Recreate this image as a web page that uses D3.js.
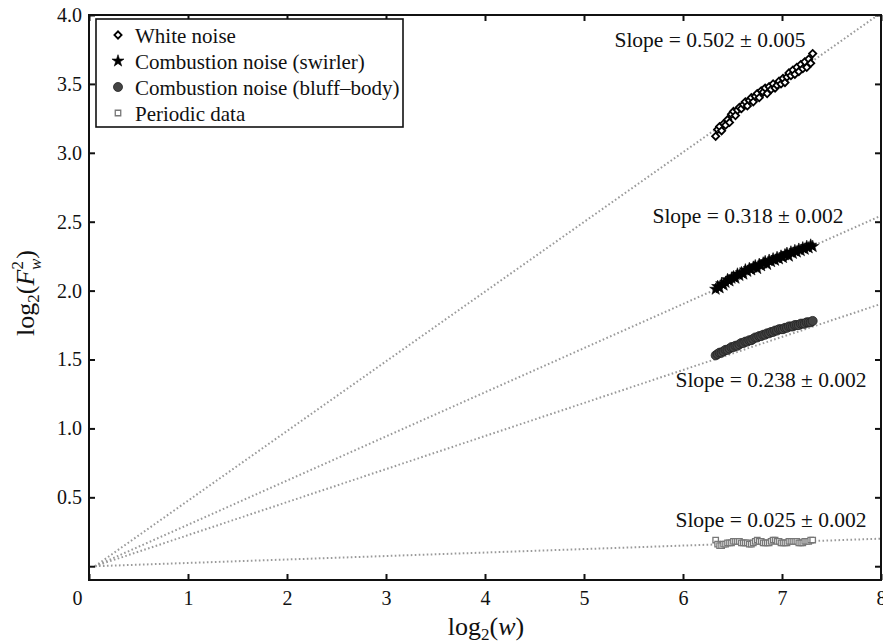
<!DOCTYPE html>
<html>
<head>
<meta charset="utf-8">
<script src="https://cdn.jsdelivr.net/npm/d3@7"></script>
<style>
  body { margin: 0; background: #fff; }
  text { font-family: "Liberation Serif", "DejaVu Serif", serif; fill: #111; }
</style>
</head>
<body>
<svg id="chart" width="883" height="644"></svg>
<script>
// log2(w) values shared by all four series
const logW = [6.33,6.35,6.37,6.39,6.41,6.43,6.45,6.47,6.49,6.51,
  6.53,6.55,6.57,6.59,6.61,6.63,6.65,6.67,6.69,6.71,
  6.73,6.75,6.77,6.79,6.81,6.83,6.85,6.87,6.89,6.91,
  6.93,6.95,6.97,6.99,7.01,7.03,7.05,7.07,7.09,7.11,
  7.13,7.15,7.17,7.19,7.21,7.23,7.25,7.27,7.29,7.31];

const whiteNoise = [3.12,3.17,3.19,3.16,3.21,3.20,3.24,3.22,3.28,3.30,
  3.27,3.31,3.33,3.32,3.35,3.37,3.34,3.38,3.40,3.37,
  3.41,3.43,3.40,3.45,3.44,3.47,3.43,3.48,3.46,3.50,
  3.47,3.49,3.52,3.50,3.54,3.51,3.55,3.58,3.56,3.60,
  3.57,3.62,3.59,3.64,3.61,3.66,3.62,3.68,3.65,3.72];

const swirler = [2.01,2.03,2.02,2.05,2.04,2.06,2.08,2.07,2.09,2.10,
  2.09,2.12,2.11,2.13,2.12,2.15,2.14,2.16,2.15,2.17,
  2.18,2.16,2.19,2.18,2.20,2.21,2.19,2.22,2.21,2.23,
  2.22,2.24,2.23,2.25,2.24,2.26,2.27,2.25,2.28,2.27,
  2.29,2.28,2.30,2.29,2.31,2.30,2.32,2.31,2.33,2.32];

const bluffBody = [1.53,1.54,1.55,1.55,1.56,1.57,1.57,1.58,1.59,1.59,
  1.60,1.60,1.61,1.62,1.62,1.63,1.63,1.64,1.64,1.65,
  1.66,1.66,1.67,1.67,1.68,1.68,1.69,1.69,1.70,1.70,
  1.71,1.71,1.72,1.72,1.72,1.73,1.73,1.74,1.74,1.74,
  1.75,1.75,1.75,1.76,1.76,1.76,1.77,1.77,1.77,1.78];

const periodic = [0.19,0.16,0.15,0.15,0.16,0.16,0.17,0.17,0.17,0.18,
  0.18,0.18,0.18,0.17,0.17,0.17,0.17,0.16,0.16,0.17,
  0.18,0.19,0.18,0.18,0.17,0.17,0.17,0.17,0.18,0.19,
  0.19,0.18,0.18,0.17,0.17,0.17,0.17,0.18,0.18,0.18,
  0.18,0.18,0.17,0.17,0.17,0.18,0.18,0.18,0.19,0.19];

// fitted slopes and their labels
const slopes = [0.502, 0.318, 0.238, 0.025];
const slopeLabels = ["Slope = 0.502 \u00b1 0.005", "Slope = 0.318 \u00b1 0.002",
  "Slope = 0.238 \u00b1 0.002", "Slope = 0.025 \u00b1 0.002"];
const legendNames = ["White noise", "Combustion noise (swirler)",
  "Combustion noise (bluff\u2013body)", "Periodic data"];
const xTicks = [0, 1, 2, 3, 4, 5, 6, 7, 8];
const yTicks = [0, 0.5, 1.0, 1.5, 2.0, 2.5, 3.0, 3.5, 4.0];

const plotL = 89, plotR = 881, plotT = 15, plotB = 580;

const svg = d3.select("#chart");

const x = d3.scaleLinear().domain([0, 8]).range([plotL, plotR]);
const y = d3.scaleLinear().domain([-0.1, 4.0]).range([plotB, plotT]);

svg.append("defs").append("clipPath").attr("id", "clip")
  .append("rect")
  .attr("x", plotL).attr("y", plotT)
  .attr("width", plotR - plotL).attr("height", plotB - plotT);

// dotted fit lines through the origin
const fit = svg.append("g").attr("clip-path", "url(#clip)");
slopes.forEach(s => {
  fit.append("line")
    .attr("x1", x(0.06)).attr("y1", y(0))
    .attr("x2", x(8.2)).attr("y2", y(s * 8.2))
    .attr("stroke", "#9a9a9a")
    .attr("stroke-width", 2)
    .attr("stroke-dasharray", "1.6,2.4");
});

// series markers (diamond = square turned 45 degrees)
const series = [
  { vals: whiteNoise, sym: d3.symbolSquare, rot: 45, size: 26, fill: "#fff", stroke: "#000", sw: 1.8 },
  { vals: swirler, sym: d3.symbolStar, rot: 0, size: 45, fill: "#000", stroke: "#000", sw: 0.6 },
  { vals: bluffBody, sym: d3.symbolCircle, rot: 0, size: 64, fill: "#444", stroke: "#222", sw: 0.8 },
  { vals: periodic, sym: d3.symbolSquare, rot: 0, size: 30, fill: "#fff", stroke: "#777", sw: 1.3 }
];

series.forEach(s => {
  svg.append("g").selectAll("path")
    .data(s.vals)
    .enter()
    .append("path")
    .attr("d", d3.symbol().type(s.sym).size(s.size))
    .attr("transform", (d, i) => `translate(${x(logW[i])},${y(d)}) rotate(${s.rot})`)
    .attr("fill", s.fill)
    .attr("stroke", s.stroke)
    .attr("stroke-width", s.sw);
});

// slope annotations
const labelPos = [[710, 47], [748, 223], [771, 387], [771, 527]];
slopeLabels.forEach((t, i) => {
  svg.append("text")
    .attr("x", labelPos[i][0]).attr("y", labelPos[i][1])
    .attr("text-anchor", "middle")
    .style("font-size", "21.5px")
    .text(t);
});

// axes with inward ticks on all four sides
const xAxis = svg.append("g")
  .attr("transform", `translate(0,${plotB})`)
  .call(d3.axisBottom(x).tickValues(xTicks).tickSizeInner(-6).tickSizeOuter(0).tickPadding(11));
xAxis.selectAll("text").style("font-size", "20px")
  .attr("dx", d => d === 0 ? -12 : 0);

const yAxis = svg.append("g")
  .attr("transform", `translate(${plotL},0)`)
  .call(d3.axisLeft(y).tickValues(yTicks).tickSizeInner(-6).tickSizeOuter(0).tickPadding(7)
    .tickFormat(d => d === 0 ? "" : d3.format(".1f")(d)));
yAxis.selectAll("text").style("font-size", "20px");

svg.append("g")
  .attr("transform", `translate(0,${plotT})`)
  .call(d3.axisTop(x).tickValues(xTicks).tickSizeInner(-6).tickSizeOuter(0).tickFormat(""));
svg.append("g")
  .attr("transform", `translate(${plotR},0)`)
  .call(d3.axisRight(y).tickValues(yTicks).tickSizeInner(-6).tickSizeOuter(0).tickFormat(""));

svg.selectAll(".domain").remove();
svg.selectAll(".tick line").attr("stroke", "#111").attr("stroke-width", 2);

svg.append("rect")
  .attr("x", plotL).attr("y", plotT)
  .attr("width", plotR - plotL).attr("height", plotB - plotT)
  .attr("fill", "none").attr("stroke", "#111").attr("stroke-width", 2);

// legend
const legend = svg.append("g");
legend.append("rect")
  .attr("x", 96).attr("y", 19).attr("width", 307).attr("height", 108)
  .attr("fill", "#fff").attr("stroke", "#111").attr("stroke-width", 1.6);
legendNames.forEach((name, i) => {
  const s = series[i];
  const ly = 36 + i * 26;
  legend.append("path")
    .attr("d", d3.symbol().type(s.sym).size(s.size))
    .attr("transform", `translate(118,${ly - 1}) rotate(${s.rot})`)
    .attr("fill", s.fill).attr("stroke", s.stroke).attr("stroke-width", s.sw);
  legend.append("text")
    .attr("x", 135).attr("y", ly + 7)
    .style("font-size", "21px")
    .text(name);
});

// axis titles
const xt = svg.append("text")
  .attr("x", 486).attr("y", 635)
  .attr("text-anchor", "middle")
  .style("font-size", "26px");
xt.append("tspan").text("log");
xt.append("tspan").attr("dy", 5).style("font-size", "17px").text("2");
xt.append("tspan").attr("dy", -5).text("(");
xt.append("tspan").style("font-style", "italic").text("w");
xt.append("tspan").text(")");

const yt = svg.append("text")
  .attr("transform", "translate(34,293) rotate(-90)")
  .attr("text-anchor", "middle")
  .style("font-size", "26px");
yt.append("tspan").text("log");
yt.append("tspan").attr("dy", 5).style("font-size", "17px").text("2");
yt.append("tspan").attr("dy", -5).text("(");
yt.append("tspan").style("font-style", "italic").text("F");
yt.append("tspan").attr("dy", -11).style("font-size", "17px").text("2");
yt.append("tspan").attr("dx", -9).attr("dy", 18).style("font-size", "17px").style("font-style", "italic").text("w");
yt.append("tspan").attr("dy", -7).text(")");
</script>
</body>
</html>
